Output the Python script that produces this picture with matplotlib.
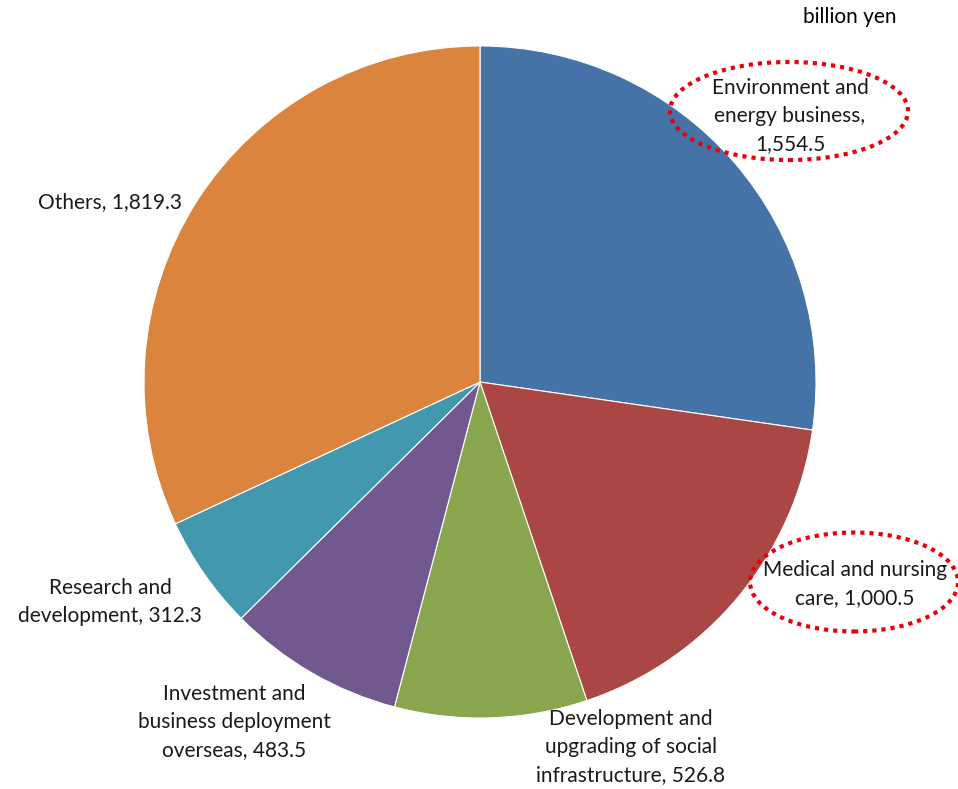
import matplotlib.pyplot as plt
from matplotlib.patches import Ellipse

categories = ['Environment and\nenergy business,\n1,554.5',
              'Medical and nursing\ncare, 1,000.5',
              'Development and\nupgrading of social\ninfrastructure, 526.8',
              'Investment and\nbusiness deployment\noverseas, 483.5',
              'Research and\ndevelopment, 312.3',
              'Others, 1,819.3']
values = [1554.5, 1000.5, 526.8, 483.5, 312.3, 1819.3]
colors = ['#4572A7', '#AA4643', '#89A54E', '#71588F', '#4198AF', '#DB843D']

# label centres in pixels of the 958x789 picture (pie centre 480,382, radius 336)
label_px = [(790, 116), (855, 584), (631, 747), (234, 722), (110, 602), (110, 202)]
ellipse_px = [(789, 111, 238, 98), (854, 582, 208, 99)]

plt.rcParams['font.family'] = ['Lato', 'DejaVu Sans']

W, H = 958, 789
cx, cy, r = 480, 382, 336
fig = plt.figure(figsize=(W / 100, H / 100), dpi=100)
ax = fig.add_axes([(cx - r) / W, (H - cy - r) / H, 2 * r / W, 2 * r / H])
ax.pie(values, colors=colors, startangle=90, counterclock=False, radius=1,
       wedgeprops={'edgecolor': 'white', 'linewidth': 0.8})
ax.set_xlim(-1, 1)
ax.set_ylim(-1, 1)
ax.set_aspect('equal')
ax.axis('off')


def to_data(px, py):
    return (px - cx) / r, (cy - py) / r


for name, pos in zip(categories, label_px):
    x, y = to_data(*pos)
    ax.text(x, y, name, ha='center', va='center', fontsize=15, color='#1a1a1a',
            linespacing=1.5, clip_on=False)

for ex, ey, ew, eh in ellipse_px:
    x, y = to_data(ex, ey)
    ax.add_patch(Ellipse((x, y), ew / r, eh / r, fill=False, edgecolor='#e8000b',
                         linestyle=(0, (1, 1.2)), linewidth=3, clip_on=False))

fig.text(850 / W, 1 - 17 / H, 'billion yen', ha='center', va='center',
         fontsize=15, color='black')

fig.savefig('out.png', dpi=100)
